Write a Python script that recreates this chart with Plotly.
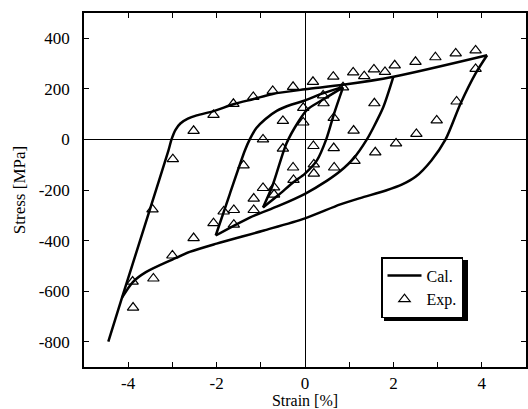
import plotly.graph_objects as go

# ---- Calculated curves (branches of the hysteresis loops) ----
outer_up_x = [-4.45, -4.14, -3.48, -3.09, -3.02, -2.93, -2.82, -2.65, -2.45, -2.07, -1.6, -1.16, -0.73, 0.0, 0.86, 2.0, 4.12]
outer_up_y = [-800, -626, -261, -44, 0, 38, 63, 82, 95, 112, 140, 160, 180, 198, 216, 248, 333]

outer_down_x = [4.12, 3.86, 3.52, 3.18, 2.86, 2.5, 2.2, 1.83, 1.25, 0.8, 0.0, -0.93, -2.0, -2.61, -3.0, -3.6, -3.9, -4.14]
outer_down_y = [333, 261, 142, 0, -83, -148, -178, -202, -232, -257, -312, -360, -412, -445, -475, -525, -565, -626]

loop2_up_x = [-2.02, -1.7, -1.36, -1.25, -1.1, -0.9, -0.64, -0.3, 0.0, 0.4, 0.86]
loop2_up_y = [-380, -215, -44, 0, 45, 80, 113, 138, 154, 182, 208]

loop2_down_x = [2.0, 1.77, 1.55, 1.4, 1.1, 0.8, 0.5, 0.0, -0.6, -1.25, -2.02]
loop2_down_y = [248, 127, 48, 0, -75, -125, -163, -215, -263, -309, -380]

loop3_up_x = [-0.95, -0.73, -0.42, -0.15, 0.05, 0.41, 0.86]
loop3_up_y = [-269, -180, -16, 70, 118, 158, 206]

loop3_down_x = [0.86, 0.66, 0.48, 0.27, 0.0, -0.27, -0.6, -0.95]
loop3_down_y = [206, 103, 0, -83, -135, -170, -220, -269]

# ---- Experimental points ----
exp_x = [-3.89, -3.9, -3.43, -3.45, -3.0, -2.99, -2.52, -2.52, -2.07, -2.07,
         -1.84, -1.61, -1.61, -1.62, -1.39, -1.17, -1.16, -1.16, -0.95, -0.95,
         -0.73, -0.7, -0.7, -0.5, -0.5, -0.27, -0.27, -0.26, -0.04, -0.04,
         0.18, 0.19, 0.2, 0.2, 0.41, 0.42, 0.64, 0.65, 0.65, 0.66,
         0.86, 1.09, 1.1, 1.12, 1.34, 1.56, 1.57, 1.59, 1.81, 2.03,
         2.06, 2.5, 2.52, 2.95, 2.98, 3.41, 3.43, 3.86, 3.86]
exp_y = [-665, -562, -550, -277, -459, -78, -390, 34, -331, 97,
         -285, -279, -337, 141, -103, 168, -234, -279, 0, -192,
         192, -190, -218, 73, -36, 208, -111, -160, 125, 67,
         228, -26, -99, -135, 174, 143, 248, 85, -34, -111,
         206, 265, 35, -85, 250, 277, 143, -51, 267, 293,
         -16, 307, 22, 325, 75, 340, 150, 352, 279]

x_tick_vals = [-4, -2, 0, 2, 4]
x_tick_text = ["-4", "-2", "0", "2", "4"]
y_tick_vals = [-800, -600, -400, -200, 0, 200, 400]
y_tick_text = ["-800", "-600", "-400", "-200", "0", "200", "400"]

FONT = "Liberation Serif"

fig = go.Figure()
branches = [
    (outer_up_x, outer_up_y),
    (outer_down_x, outer_down_y),
    (loop2_up_x, loop2_up_y),
    (loop2_down_x, loop2_down_y),
    (loop3_up_x, loop3_up_y),
    (loop3_down_x, loop3_down_y),
]
for i, (bx, by) in enumerate(branches):
    fig.add_trace(go.Scatter(
        x=bx, y=by, mode="lines", name="Cal.", legendgroup="cal",
        showlegend=(i == 0),
        line=dict(color="black", width=2.5, shape="spline", smoothing=0.8),
    ))

fig.add_trace(go.Scatter(
    x=exp_x, y=exp_y, mode="markers", name="Exp.",
    marker=dict(symbol="triangle-up-open", size=10, color="black",
                line=dict(color="black", width=1.2)),
))

axis_common = dict(
    automargin=False,
    showline=True, linecolor="black", linewidth=1.5, mirror="ticks",
    ticks="inside", ticklen=5, tickwidth=1.2, tickcolor="black",
    showgrid=False, zeroline=True, zerolinecolor="black", zerolinewidth=1,
    tickfont=dict(family=FONT, size=17, color="black"),
)

fig.update_xaxes(
    range=[-5, 5], tickvals=x_tick_vals, ticktext=x_tick_text,
    ticklabelstandoff=0,
    minor=dict(dtick=1, tick0=0, ticks="inside", ticklen=5, tickwidth=1.2, tickcolor="black"),
    title=dict(text="Strain [%]", font=dict(family=FONT, size=16, color="black"), standoff=3),
    **axis_common,
)
fig.update_yaxes(
    range=[-900, 500], tickvals=y_tick_vals, ticktext=y_tick_text,
    ticklabelstandoff=9,
    title=dict(text="Stress [MPa]", font=dict(family=FONT, size=17, color="black"), standoff=9),
    **axis_common,
)

# plot area: x 84..526, y 13..367 (px)
def px_x(p):
    return (p - 84) / 442.0

def px_y(p):
    return (367 - p) / 354.0

# legend drop shadow (legend box drawn on top of it)
fig.add_shape(type="rect", xref="paper", yref="paper",
              x0=px_x(384), x1=px_x(468), y0=px_y(321), y1=px_y(260),
              fillcolor="black", line=dict(width=0), layer="above")

fig.update_layout(
    width=528, height=409,
    margin=dict(l=84, r=2, t=13, b=42),
    paper_bgcolor="white", plot_bgcolor="white",
    font=dict(family=FONT, size=17, color="black"),
    legend=dict(x=px_x(381), y=px_y(257), xanchor="left", yanchor="top",
                bordercolor="black", borderwidth=1.5, bgcolor="white",
                font=dict(family=FONT, size=16, color="black"),
                tracegroupgap=0, itemwidth=34),
)

fig.write_html("out.html", config={"displayModeBar": False},
               post_script="document.body.style.margin='0px';document.body.style.padding='0px';")
